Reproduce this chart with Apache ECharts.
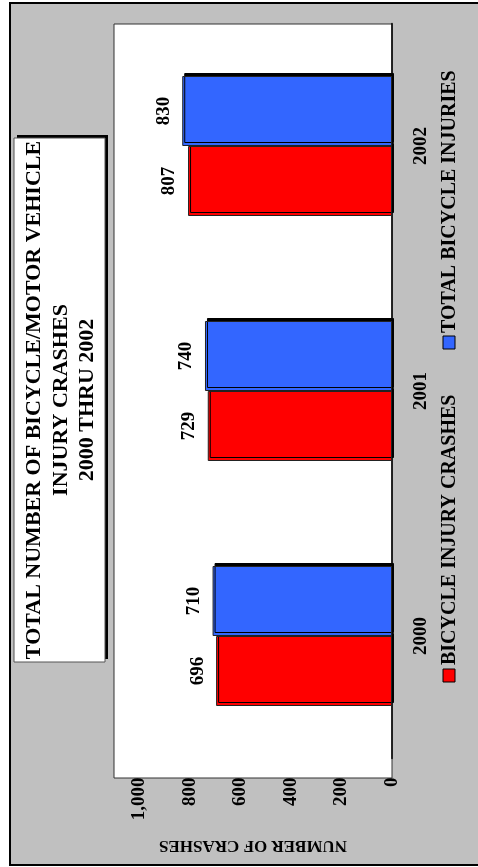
<!DOCTYPE html>
<html>
<head>
<meta charset="utf-8">
<script src="https://cdn.jsdelivr.net/npm/echarts@6/dist/echarts.min.js"></script>
<style>
html, body { margin: 0; padding: 0; background: #fff; }
#main { width: 478px; height: 867px; }
</style>
</head>
<body>
<div id="main"></div>
<script>
var years = ['2000', '2001', '2002'];
var crashes = [696, 729, 807];
var injuries = [710, 740, 830];
var valueTicks = [0, 200, 400, 600, 800, 1000];

var FONT = '"Liberation Serif", "Times New Roman", serif';
var RED = '#FF0000';
var BLUE = '#3366FF';

var chart = echarts.init(document.getElementById('main'));

var barStyle = {
    borderColor: '#222',
    borderWidth: 1,
    shadowColor: '#000',
    shadowBlur: 0,
    shadowOffsetX: 2,
    shadowOffsetY: -3
};

var barLabel = {
    show: true,
    position: 'left',
    distance: 9,
    rotate: 90,
    align: 'center',
    verticalAlign: 'bottom',
    fontFamily: FONT,
    fontWeight: 'bold',
    fontSize: 19,
    color: '#000'
};

var option = {
    backgroundColor: '#fff',
    animation: false,
    graphic: [
        // outer gray frame
        { type: 'rect', z: -10, shape: { x: 10, y: 3, width: 470, height: 862 },
          style: { fill: '#C0C0C0', stroke: '#000', lineWidth: 2 } },
        // plot area
        { type: 'rect', z: -9, shape: { x: 114, y: 24, width: 278, height: 754 },
          style: { fill: '#fff', stroke: '#333', lineWidth: 1 } },
        // title box
        { type: 'rect', z: -8, shape: { x: 17, y: 135, width: 91, height: 524 },
          style: { fill: '#000' } },
        { type: 'rect', z: -7, shape: { x: 14, y: 138, width: 91, height: 524 },
          style: { fill: '#fff', stroke: '#555', lineWidth: 1 } },
        { type: 'text', z: 5, x: 61, y: 400, rotation: Math.PI / 2,
          style: {
              text: 'TOTAL NUMBER OF BICYCLE/MOTOR VEHICLE\nINJURY CRASHES\n2000 THRU 2002',
              fontFamily: FONT, fontWeight: 'bold', fontSize: 22, lineHeight: 26.5,
              align: 'center', verticalAlign: 'middle', fill: '#000'
          } },
        // legend
        { type: 'rect', z: 5, shape: { x: 443, y: 669, width: 12, height: 13 },
          style: { fill: RED, stroke: '#000', lineWidth: 1 } },
        { type: 'text', z: 5, x: 450, y: 665, rotation: Math.PI / 2,
          style: { text: 'BICYCLE INJURY CRASHES', fontFamily: FONT, fontWeight: 'bold',
                   fontSize: 20, align: 'left', verticalAlign: 'middle', fill: '#000' } },
        { type: 'rect', z: 5, shape: { x: 443, y: 336, width: 12, height: 13 },
          style: { fill: BLUE, stroke: '#000', lineWidth: 1 } },
        { type: 'text', z: 5, x: 450, y: 333, rotation: Math.PI / 2,
          style: { text: 'TOTAL BICYCLE INJURIES', fontFamily: FONT, fontWeight: 'bold',
                   fontSize: 20, align: 'left', verticalAlign: 'middle', fill: '#000' } }
    ],
    grid: {
        left: 114,
        right: 86,
        top: 23.5,
        bottom: 108.5
    },
    xAxis: {
        type: 'value',
        inverse: true,
        min: 0,
        max: 1100,
        interval: 200,
        name: 'NUMBER OF CRASHES',
        nameLocation: 'middle',
        nameGap: 78,
        nameRotate: 180,
        nameTextStyle: { fontFamily: FONT, fontWeight: 'bold', fontSize: 17, color: '#000' },
        axisLine: { show: false },
        axisTick: { show: false },
        splitLine: { show: false },
        axisLabel: {
            rotate: 90,
            margin: 19,
            showMaxLabel: false,
            fontFamily: FONT, fontWeight: 'bold', fontSize: 19, color: '#000',
            formatter: function (v) {
                return valueTicks.indexOf(v) >= 0 ? v.toLocaleString('en-US') : '';
            }
        }
    },
    yAxis: {
        type: 'category',
        position: 'right',
        data: years,
        axisLine: { show: true, lineStyle: { color: '#000', width: 1.5 } },
        axisTick: { show: false },
        axisLabel: {
            rotate: 90,
            margin: 20,
            fontFamily: FONT, fontWeight: 'bold', fontSize: 19, color: '#000'
        }
    },
    series: [
        {
            name: 'TOTAL BICYCLE INJURIES',
            type: 'bar',
            z: 3,
            data: injuries,
            barWidth: 70,
            barGap: '0%',
            itemStyle: Object.assign({ color: BLUE }, barStyle),
            label: barLabel
        },
        {
            name: 'BICYCLE INJURY CRASHES',
            type: 'bar',
            z: 2,
            data: crashes,
            barWidth: 70,
            barGap: '0%',
            itemStyle: Object.assign({ color: RED }, barStyle),
            label: barLabel
        }
    ]
};

chart.setOption(option);
</script>
</body>
</html>
